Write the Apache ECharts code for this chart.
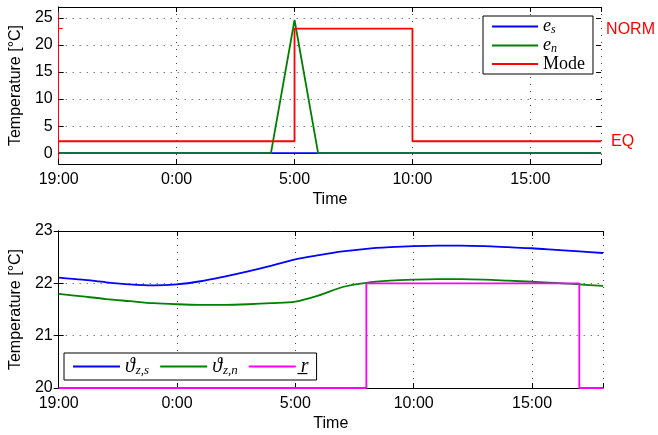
<!DOCTYPE html>
<html>
<head>
<meta charset="utf-8">
<script src="https://cdn.jsdelivr.net/npm/echarts@6/dist/echarts.min.js"></script>
<style>html,body{margin:0;padding:0;background:#fff}#c{width:658px;height:435px}</style>
</head>
<body>
<div id="c"></div>
<script>
// hours after 19:00
var xTickValues = [0, 5, 10, 15, 20];
var xTickLabels = ['19:00', '0:00', '5:00', '10:00', '15:00'];
var topYTicks = [0, 5, 10, 15, 20, 25];
var modeLevels = [2.2, 23];
var modeLabels = ['EQ', 'NORM'];

// top plot series
var esTime = [0, 23];
var esVal = [0, 0];
var enTime = [0, 9, 10, 11, 23];
var enVal = [0, 0, 24.6, 0, 0];
var modeTime = [0, 10, 10, 15, 15, 23];
var modeVal = [2.2, 2.2, 23, 23, 2.2, 2.2];

// bottom plot series
var hourly = [0,1,2,3,4,5,6,7,8,9,10,11,12,13,14,15,16,17,18,19,20,21,22,23];
var thetaS = [22.11,22.07,22.02,21.98,21.96,21.98,22.04,22.13,22.23,22.34,22.46,22.54,22.61,22.66,22.69,22.71,22.72,22.72,22.71,22.69,22.67,22.64,22.61,22.58];
var thetaN = [21.80,21.75,21.70,21.66,21.62,21.60,21.59,21.59,21.60,21.62,21.65,21.77,21.93,22.01,22.05,22.07,22.08,22.08,22.07,22.05,22.03,22.01,21.98,21.95];
var rTime = [0, 13, 13, 22, 22, 23];
var rVal = [20, 20, 22, 22, 20, 20];

function pairs(xs, ys) { return xs.map(function (x, i) { return [x, ys[i]]; }); }

var FONT = 'Liberation Sans, Arial, Helvetica, sans-serif';
var SERIF = 'Liberation Serif, DejaVu Serif, serif';
var dotted = { color: '#444', width: 1, type: [1, 6] };

function xAx(gi, pos, labels) {
  return {
    type: 'value', gridIndex: gi, position: pos, min: 0, max: 23, interval: 5,
    axisLine: { show: true, onZero: false, lineStyle: { color: '#000', width: 1 } },
    axisTick: { show: true, inside: true, length: 5, lineStyle: { color: '#000' } },
    axisLabel: labels ? {
      show: true, color: '#000', fontFamily: FONT, fontSize: 16, margin: 8,
      formatter: function (v) { var i = xTickValues.indexOf(v); return i >= 0 ? xTickLabels[i] : ''; }
    } : { show: false },
    splitLine: { show: labels, lineStyle: dotted },
    name: labels ? 'Time' : '', nameLocation: 'middle', nameGap: 28,
    nameTextStyle: { color: '#000', fontFamily: FONT, fontSize: 16 }
  };
}

var option = {
  animation: false,
  backgroundColor: '#fff',
  grid: [
    { left: 56, top: 7, width: 547, height: 157 },
    { left: 56, top: 231, width: 547, height: 157 }
  ],
  xAxis: [xAx(0, 'bottom', true), xAx(0, 'top', false), xAx(1, 'bottom', true), xAx(1, 'top', false)],
  yAxis: [
    {
      type: 'value', gridIndex: 0, position: 'left', min: -2, max: 27,
      axisLine: { show: true, lineStyle: { color: '#000' } },
      axisTick: { show: true, inside: true, length: 5, customValues: topYTicks, lineStyle: { color: '#000' } },
      axisLabel: { customValues: topYTicks, color: '#000', fontFamily: FONT, fontSize: 16, margin: 6 },
      splitLine: { show: true, lineStyle: dotted },
      name: 'Temperature [°C]', nameLocation: 'middle', nameGap: 33,
      nameTextStyle: { color: '#000', fontFamily: FONT, fontSize: 16 }
    },
    {
      type: 'value', gridIndex: 0, position: 'right', min: -2, max: 27,
      axisLine: { show: true, lineStyle: { color: '#ff0000', width: 1 } },
      axisTick: { show: true, inside: false, length: 4, customValues: modeLevels, lineStyle: { color: '#ff0000' } },
      axisLabel: {
        customValues: modeLevels, margin: 5, color: '#ff0000', fontFamily: FONT, fontSize: 16,
        formatter: function (v) { var i = modeLevels.indexOf(v); return i === 0 ? '{e|' + modeLabels[0] + '}' : '{n|' + modeLabels[1] + '}'; },
        rich: { e: { padding: [0, 0, 0, 5], color: '#ff0000', fontFamily: FONT, fontSize: 16 }, n: { padding: [2, 0, 0, 0], color: '#ff0000', fontFamily: FONT, fontSize: 16 } }
      },
      splitLine: { show: false }
    },
    {
      type: 'value', gridIndex: 0, position: 'right', min: -2, max: 27,
      axisLine: { show: false },
      axisTick: { show: true, inside: true, length: 5, customValues: topYTicks, lineStyle: { color: '#000' } },
      axisLabel: { show: false },
      splitLine: { show: false }
    },
    {
      type: 'value', gridIndex: 1, position: 'left', min: 20, max: 23, interval: 1,
      axisLine: { show: true, lineStyle: { color: '#000' } },
      axisTick: { show: true, inside: true, length: 5, lineStyle: { color: '#000' } },
      axisLabel: { color: '#000', fontFamily: FONT, fontSize: 16, margin: 6, showMinLabel: true, showMaxLabel: true },
      splitLine: { show: true, lineStyle: dotted },
      name: 'Temperature [°C]', nameLocation: 'middle', nameGap: 33,
      nameTextStyle: { color: '#000', fontFamily: FONT, fontSize: 16 }
    },
    {
      type: 'value', gridIndex: 1, position: 'right', min: 20, max: 23, interval: 1,
      axisLine: { show: true, lineStyle: { color: '#000' } },
      axisTick: { show: true, inside: true, length: 5, lineStyle: { color: '#000' } },
      axisLabel: { show: false },
      splitLine: { show: false }
    }
  ],
  legend: [
    {
      data: ['e_s', 'e_n', 'Mode'],
      orient: 'vertical', left: 483, top: 16,
      icon: 'rect',
      padding: [1, 8, 1, 9], itemGap: 0, itemWidth: 46, itemHeight: 2,
      backgroundColor: '#fff', borderColor: '#000', borderWidth: 1, borderRadius: 0,
      textStyle: { fontFamily: SERIF, fontSize: 18, color: '#000', lineHeight: 14.5,
        rich: {
          i: { fontFamily: SERIF, fontStyle: 'italic', fontSize: 18, color: '#000', lineHeight: 14.5 },
          s: { fontFamily: SERIF, fontStyle: 'italic', fontSize: 12, color: '#000', lineHeight: 14.5, padding: [7, 0, 0, 0] },
          m: { fontFamily: SERIF, fontSize: 18, color: '#000', lineHeight: 14.5 }
        } },
      formatter: function (n) {
        if (n === 'e_s') return '{i|e}{s|s}';
        if (n === 'e_n') return '{i|e}{s|n}';
        return '{m|Mode}';
      }
    },
    {
      data: ['theta_s', 'theta_n', 'r'],
      orient: 'horizontal', left: 64, top: 353,
      icon: 'rect',
      padding: [3, 8, 3, 9], itemGap: 11, itemWidth: 47, itemHeight: 2,
      backgroundColor: '#fff', borderColor: '#000', borderWidth: 1, borderRadius: 0,
      textStyle: { fontFamily: SERIF, fontSize: 20, color: '#000', lineHeight: 20,
        rich: {
          i: { fontFamily: SERIF, fontStyle: 'italic', fontSize: 20, color: '#000', lineHeight: 20 },
          s: { fontFamily: SERIF, fontStyle: 'italic', fontSize: 13, color: '#000', lineHeight: 20, padding: [8, 0, 0, 1] }
        } },
      formatter: function (n) {
        if (n === 'theta_s') return '{i|\u03D1}{s|z,s}';
        if (n === 'theta_n') return '{i|\u03D1}{s|z,n}';
        return '{i|r\u0332}';
      }
    }
  ],
  series: [
    { name: 'e_s', type: 'line', xAxisIndex: 0, yAxisIndex: 0, data: pairs(esTime, esVal), symbol: 'none', lineStyle: { color: '#0000ff', width: 1.8 }, itemStyle: { color: '#0000ff' } },
    { name: 'e_n', type: 'line', xAxisIndex: 0, yAxisIndex: 0, data: pairs(enTime, enVal), symbol: 'none', lineStyle: { color: '#008000', width: 1.8 }, itemStyle: { color: '#008000' } },
    { name: 'Mode', type: 'line', xAxisIndex: 0, yAxisIndex: 0, data: pairs(modeTime, modeVal), symbol: 'none', lineStyle: { color: '#ff0000', width: 1.8 }, itemStyle: { color: '#ff0000' } },
    { name: 'theta_s', type: 'line', xAxisIndex: 2, yAxisIndex: 3, data: pairs(hourly, thetaS), smooth: 0.3, symbol: 'none', lineStyle: { color: '#0000ff', width: 1.8 }, itemStyle: { color: '#0000ff' } },
    { name: 'theta_n', type: 'line', xAxisIndex: 2, yAxisIndex: 3, data: pairs(hourly, thetaN), smooth: 0.3, symbol: 'none', lineStyle: { color: '#008000', width: 1.8 }, itemStyle: { color: '#008000' } },
    { name: 'r', type: 'line', xAxisIndex: 2, yAxisIndex: 3, data: pairs(rTime, rVal), symbol: 'none', clip: false, lineStyle: { color: '#ff00ff', width: 1.8 }, itemStyle: { color: '#ff00ff' }, z: 5 }
  ]
};
var chart = echarts.init(document.getElementById('c'), null, { renderer: 'canvas' });
chart.setOption(option);
</script>
</body>
</html>
